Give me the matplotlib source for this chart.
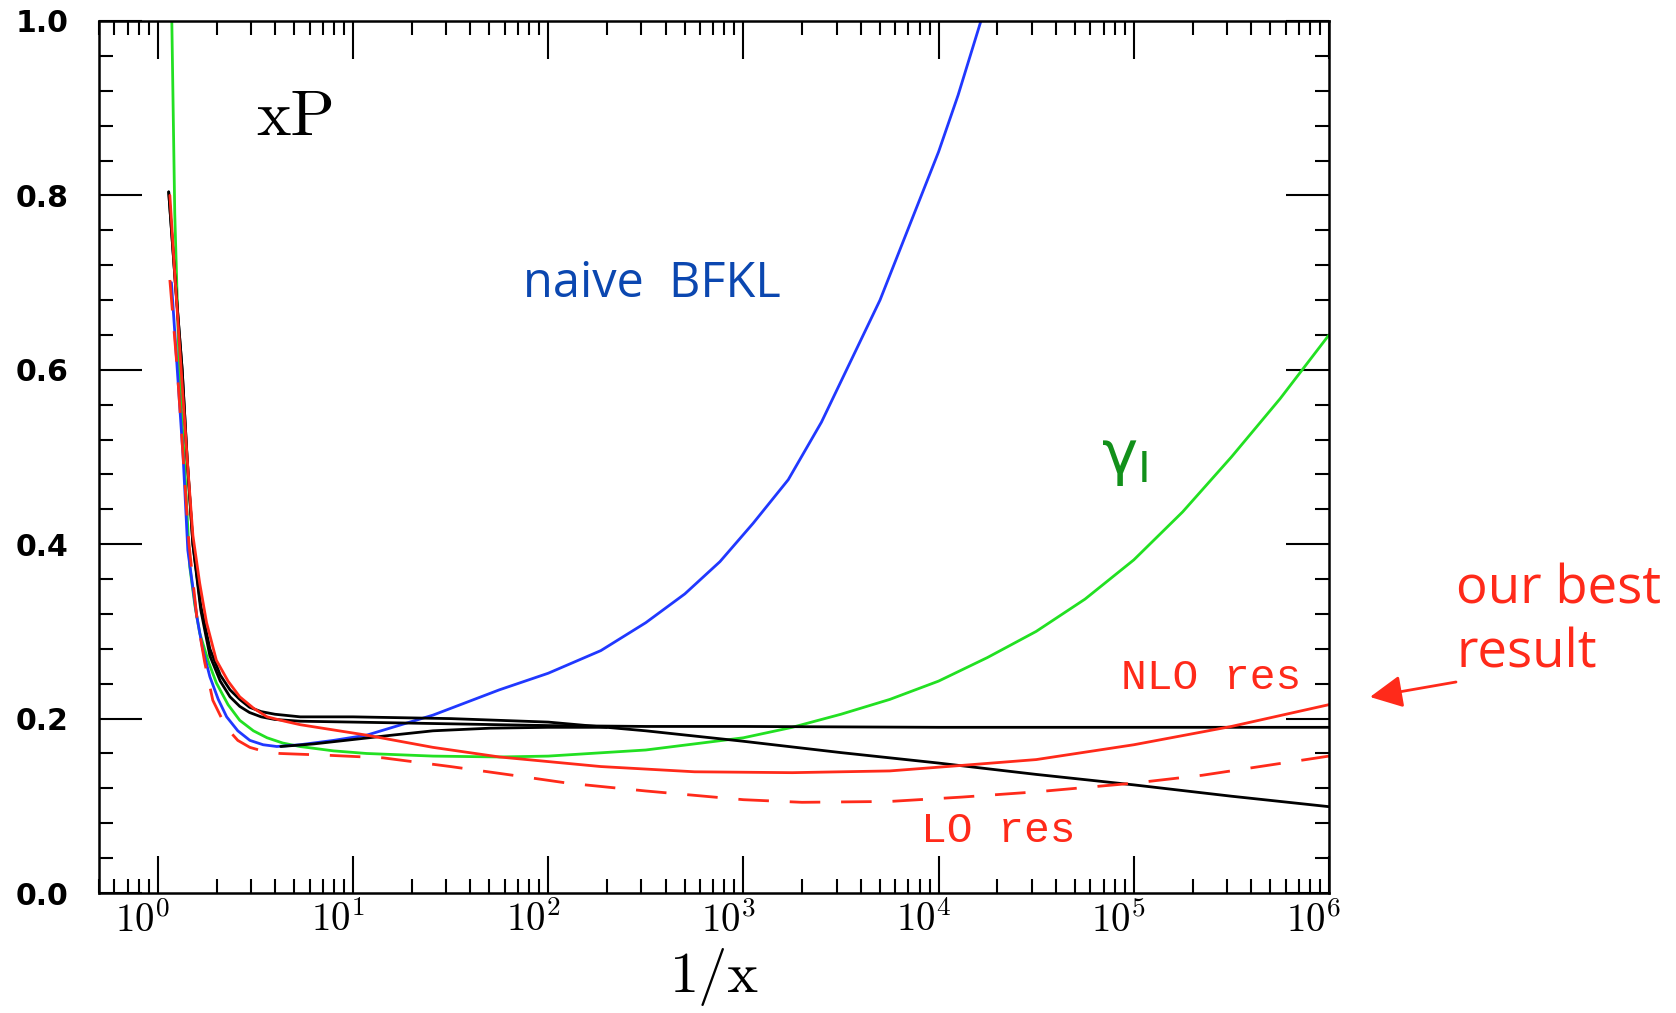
import numpy as np
import matplotlib
matplotlib.use('Agg')
import matplotlib.pyplot as plt
from matplotlib.ticker import MultipleLocator, LogLocator, NullFormatter
from matplotlib.transforms import ScaledTranslation

plt.rcParams['mathtext.fontset'] = 'cm'

# curves: lg = log10(1/x), y = xP
black_a_lg = [0.056, 0.09, 0.125, 0.15, 0.18, 0.22, 0.267, 0.32, 0.37, 0.42, 0.47, 0.53, 0.6, 0.73,
              1.0, 1.5, 2.0, 2.5, 3.0, 3.5, 4.0, 4.5, 5.0, 5.5, 6.0]
black_a_y = [0.804, 0.70, 0.60, 0.50, 0.40, 0.33, 0.28, 0.25, 0.233, 0.222, 0.213, 0.208, 0.205, 0.202,
             0.202, 0.200, 0.196, 0.186, 0.174, 0.161, 0.149, 0.136, 0.124, 0.111, 0.099]

black_b_lg = [0.056, 0.09, 0.125, 0.15, 0.18, 0.22, 0.267, 0.32, 0.37, 0.42, 0.47, 0.53, 0.6, 0.73,
              1.0, 1.5, 2.0, 2.5, 3.0, 4.0, 5.0, 6.0]
black_b_y = [0.804, 0.70, 0.60, 0.50, 0.40, 0.325, 0.272, 0.243, 0.225, 0.214, 0.207, 0.202, 0.199, 0.197,
             0.196, 0.194, 0.192, 0.191, 0.191, 0.190, 0.190, 0.190]

black_c_lg = [0.63, 0.8, 1.0, 1.2, 1.41, 1.7, 2.0, 2.3]
black_c_y = [0.168, 0.171, 0.176, 0.181, 0.186, 0.189, 0.190, 0.190]

blue_lg = [0.07, 0.1, 0.13, 0.154, 0.18, 0.2, 0.23, 0.267, 0.31, 0.353, 0.41, 0.472, 0.54, 0.61,
           0.728, 0.9, 1.07, 1.41, 1.75, 2.0, 2.27, 2.5, 2.7, 2.88, 3.05, 3.23, 3.4, 3.55, 3.7,
           3.85, 4.0, 4.1, 4.21, 4.3]
blue_y = [0.70, 0.60, 0.50, 0.393, 0.35, 0.317, 0.28, 0.248, 0.222, 0.202, 0.186, 0.175, 0.170, 0.168,
          0.170, 0.175, 0.181, 0.204, 0.233, 0.252, 0.278, 0.31, 0.343, 0.38, 0.424, 0.474, 0.54, 0.61,
          0.68, 0.765, 0.85, 0.915, 0.995, 1.06]

green_lg = [0.07, 0.072, 0.087, 0.11, 0.14, 0.164, 0.19, 0.215, 0.26, 0.30, 0.36, 0.42, 0.49, 0.56,
            0.64, 0.728, 0.9, 1.07, 1.41, 1.75, 2.0, 2.5, 3.0, 3.25, 3.5, 3.75, 4.0, 4.25, 4.5, 4.75,
            5.0, 5.25, 5.5, 5.75, 6.0]
green_y = [1.05, 1.0, 0.78, 0.60, 0.48, 0.374, 0.33, 0.298, 0.265, 0.241, 0.216, 0.198, 0.186, 0.178,
           0.172, 0.168, 0.163, 0.160, 0.157, 0.156, 0.157, 0.164, 0.178, 0.19, 0.205, 0.222, 0.243,
           0.27, 0.30, 0.337, 0.382, 0.437, 0.50, 0.567, 0.64]

nlo_lg = [0.062, 0.09, 0.12, 0.15, 0.18, 0.215, 0.25, 0.30, 0.36, 0.42, 0.49, 0.56, 0.65, 0.73, 0.9,
          1.07, 1.41, 1.75, 2.27, 2.75, 3.25, 3.75, 4.1, 4.5, 5.0, 5.5, 6.0]
nlo_y = [0.80, 0.70, 0.60, 0.50, 0.41, 0.355, 0.31, 0.267, 0.243, 0.225, 0.212, 0.202, 0.197, 0.193,
         0.187, 0.181, 0.167, 0.156, 0.145, 0.139, 0.138, 0.140, 0.146, 0.153, 0.170, 0.191, 0.216]

lo_lg = [0.062, 0.1, 0.13, 0.16, 0.2, 0.24, 0.282, 0.35, 0.41, 0.472, 0.55, 0.626, 0.867, 1.154, 1.5,
         1.82, 2.1, 2.5, 3.0, 3.3, 3.75, 4.12, 4.5, 5.0, 5.35, 6.0]
lo_y = [0.703, 0.60, 0.50, 0.40, 0.317, 0.265, 0.221, 0.19, 0.175, 0.167, 0.162, 0.160, 0.158, 0.155,
        0.145, 0.135, 0.126, 0.117, 0.107, 0.104, 0.105, 0.110, 0.116, 0.126, 0.135, 0.157]

xticks = [1, 10, 100, 1e3, 1e4, 1e5, 1e6]
xticklabels = [r'$10^{0}$', r'$10^{1}$', r'$10^{2}$', r'$10^{3}$', r'$10^{4}$', r'$10^{5}$', r'$10^{6}$']
yticks = [0.0, 0.2, 0.4, 0.6, 0.8, 1.0]
yticklabels = ['0.0', '0.2', '0.4', '0.6', '0.8', '1.0']

red = '#ff2a1a'

fig = plt.figure(figsize=(16.76, 10.13), dpi=100)
ax = fig.add_axes([99 / 1676, 1 - 893 / 1013, 1230 / 1676, 872 / 1013])

def tx(lg):
    return np.power(10.0, lg)

lw = 2.0
kw = dict(lw=lw, solid_joinstyle='round', solid_capstyle='round')
ax.plot(tx(green_lg), green_y, color='#22e022', **kw)
ax.plot(tx(blue_lg), blue_y, color='#2038ff', **kw)
ax.plot(tx(black_c_lg), black_c_y, color='black', **kw)
ax.plot(tx(black_b_lg), black_b_y, color='black', **kw)
ax.plot(tx(black_a_lg), black_a_y, color='black', **kw)
ax.plot(tx(nlo_lg), nlo_y, color=red, **kw)
ax.plot(tx(lo_lg), lo_y, color=red, lw=lw, linestyle=(0, (11, 7.5)))

ax.set_xscale('log')
ax.set_xlim(0.5, 1e6)
ax.set_ylim(0, 1)
ax.set_xticks(xticks)
ax.set_xticklabels(xticklabels)
ax.xaxis.set_minor_locator(LogLocator(base=10, subs=range(2, 10)))
ax.xaxis.set_minor_formatter(NullFormatter())
ax.set_yticks(yticks)
ax.set_yticklabels(yticklabels, family='DejaVu Sans', weight='bold')
ax.yaxis.set_minor_locator(MultipleLocator(0.04))

ax.tick_params(which='both', direction='in', top=True, right=True, width=1.5, color='black')
ax.tick_params(axis='x', which='major', length=27, pad=6, labelsize=28)
ax.tick_params(axis='y', which='major', length=31, pad=22, labelsize=21.6)
ax.tick_params(which='minor', length=10)
for s in ax.spines.values():
    s.set_linewidth(1.8)

shift = ScaledTranslation(-0.15, 0, fig.dpi_scale_trans)
for lab in ax.get_xticklabels():
    lab.set_transform(lab.get_transform() + shift)

ax.set_xlabel('1/x', family='cmr10', fontsize=42, labelpad=6)

ax.text(5.1, 0.869, 'xP', family='cmr10', fontsize=47, ha='center', va='baseline')
ax.text(341, 0.683, 'naive  BFKL', family='Open Sans', fontsize=35, color='#0b47b0',
        ha='center', va='baseline')
ax.text(90000, 0.498, r'γ$_{\mathsf{I}}$', family='DejaVu Sans', fontsize=44, color='#12901a',
        ha='center', va='center', math_fontfamily='dejavusans')
ax.text(248000, 0.247, 'NLO res', family='Liberation Mono', fontsize=31, color=red,
        ha='center', va='center')
ax.text(20100, 0.071, 'LO res', family='Liberation Mono', fontsize=31, color=red,
        ha='center', va='center')

fig.text(1456 / 1676, 1 - 603 / 1013, 'our best', family='Open Sans', fontsize=38, color=red,
         va='baseline')
fig.text(1456 / 1676, 1 - 667 / 1013, 'result', family='Open Sans', fontsize=38, color=red,
         va='baseline')
ax.annotate('', xy=(1370 / 1676, 1 - 697 / 1013), xycoords='figure fraction',
            xytext=(1456 / 1676, 1 - 682 / 1013), textcoords='figure fraction',
            arrowprops=dict(arrowstyle='-|>,head_length=0.9,head_width=0.45', mutation_scale=22,
                            color=red, lw=2, shrinkA=0, shrinkB=0),
            annotation_clip=False)

fig.savefig('out.png', dpi=100)
